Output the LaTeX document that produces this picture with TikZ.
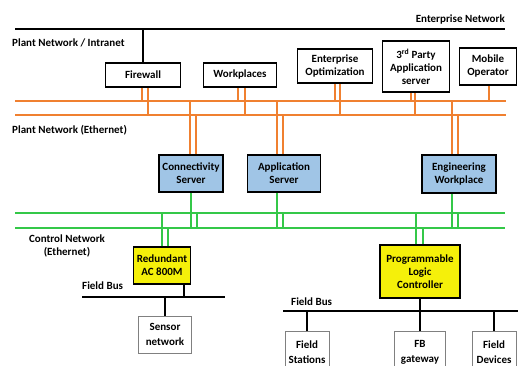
\documentclass[tikz,border=0pt]{standalone}
\usepackage{fontspec}
\setmainfont{Carlito}
\definecolor{plantorange}{RGB}{240,128,48}
\definecolor{ctrlgreen}{RGB}{52,200,72}
\definecolor{srvblue}{RGB}{160,197,230}
\definecolor{ctrlyellow}{RGB}{245,240,10}
\tikzset{
    unit/.style={draw, line width=1.6pt, align=center, inner sep=1pt,
        font=\bfseries\fontsize{11}{13}\selectfont},
    srv/.style={unit, fill=srvblue},
    ctrl/.style={unit, fill=ctrlyellow},
    dev/.style={draw=gray, line width=0.9pt, align=center, inner sep=1pt,
        font=\bfseries\fontsize{11}{15}\selectfont},
    lbl/.style={inner sep=0pt, align=center, font=\bfseries\fontsize{11}{13}\selectfont},
    bus/.style={line width=2pt},
    eth/.style={line width=1.6pt, plantorange},
    cnet/.style={line width=1.6pt, ctrlgreen}
}
% vertical drop from a shifted anchor of a node down/up to a bus coordinate
\newcommand{\drop}[4]{\draw[#4] ([xshift=#2pt]#1) -- ([xshift=#2pt]#1 |- #3);}

\begin{document}
\begin{tikzpicture}[x=1pt, y=-1pt]
            \clip (0,0) rectangle (522,366);
            % buses
            \coordinate (en1) at (15,29);   \coordinate (en2) at (505,29);
            \coordinate (po1) at (15,101);  \coordinate (po1e) at (506,101);
            \coordinate (po2) at (15,115);  \coordinate (po2e) at (506,115);
            \coordinate (cg1) at (15,213);  \coordinate (cg1e) at (505,213);
            \coordinate (cg2) at (15,228);  \coordinate (cg2e) at (505,228);
            \coordinate (fbl1) at (82,297); \coordinate (fbl2) at (225,297);
            \coordinate (fbr1) at (283,311);\coordinate (fbr2) at (518,311);

            \draw[bus] (en1)--(en2);
            \draw[eth] (po1)--(po1e);
            \draw[eth] (po2)--(po2e);
            \draw[cnet] (cg1)--(cg1e);
            \draw[cnet] (cg2)--(cg2e);
            \draw[bus] (fbl1)--(fbl2);
            \draw[bus] (fbr1)--(fbr2);

            \node[lbl, anchor=south east] (enet) at (505,24) {Enterprise Network};
            \node[lbl, anchor=west] (pnet) at (12,43) {Plant Network / Intranet};
            \node[lbl, anchor=west] (peth) at (12,130) {Plant Network (Ethernet)};
            \node[lbl] (ceth) at (67,246) {Control Network\\(Ethernet)};
            \node[lbl, anchor=west] (fbusl) at (82,286) {Field Bus};
            \node[lbl, anchor=west] (fbusr) at (291,302) {Field Bus};

            % plant network
            \node[unit, minimum width=75pt, minimum height=24pt] (fw) at (143,75) {Firewall};
            \node[unit, minimum width=73pt, minimum height=24pt] (wp) at (240,75) {Workplaces};
            \node[unit, minimum width=75pt, minimum height=34pt] (eo) at (335,66) {Enterprise\\Optimization};
            \node[unit, minimum width=67pt, minimum height=51pt] (tp) at (416,66.5) {3\textsuperscript{rd} Party\\Application\\server};
            \node[unit, minimum width=57pt, minimum height=37pt] (mo) at (488,66.5) {Mobile\\Operator};

            \node[srv, minimum width=64pt, minimum height=37pt] (cs) at (191,173.5) {Connectivity\\Server};
            \node[srv, minimum width=73pt, minimum height=37pt] (as) at (284,173.5) {Application\\Server};
            \node[srv, minimum width=74pt, minimum height=38pt] (ew) at (459,174) {Engineering\\Workplace};

            % control and field level
            \node[ctrl, minimum width=57pt, minimum height=37pt] (ac) at (162,265.5) {Redundant\\AC 800M};
            \node[ctrl, minimum width=80pt, minimum height=53pt] (plc) at (420,271.5) {Programmable\\Logic\\Controller};
            \node[dev, minimum width=53pt, minimum height=37pt] (sn) at (165,334.5) {Sensor\\network};
            \node[dev, minimum width=44pt, minimum height=42pt, anchor=north] (fs) at (307,331) {Field\\Stations};
            \node[dev, minimum width=51pt, minimum height=42pt, anchor=north] (fg) at (420,331) {FB\\gateway};
            \node[dev, minimum width=44pt, minimum height=42pt, anchor=north] (fd) at (494,331) {Field\\Devices};

            \draw[line width=1.6pt] (fw.north |- en1)--(fw.north);

            \drop{fw.south}{-1}{po1}{eth}
            \drop{fw.south}{5}{po2}{eth}
            \drop{wp.south}{-2}{po1}{eth}
            \drop{wp.south}{5}{po2}{eth}
            \drop{eo.south}{0}{po1}{eth}
            \drop{eo.south}{5}{po2}{eth}
            \drop{tp.south}{-5}{po1}{eth}
            \drop{tp.south}{-1}{po2}{eth}
            \drop{mo.south}{1}{po1}{eth}

            \drop{cs.north}{-1}{po1}{eth}
            \drop{cs.north}{5}{po2}{eth}
            \drop{as.north}{-7}{po1}{eth}
            \drop{as.north}{-1}{po2}{eth}
            \drop{ew.north}{-7}{po1}{eth}
            \drop{ew.north}{-1}{po2}{eth}

            \drop{cs.south}{0}{cg2}{cnet}
            \drop{as.south}{-7}{cg2}{cnet}
            \drop{ew.south}{-7}{cg2}{cnet}
            \draw[cnet] ([xshift=6pt]cs.south |- cg1)--([xshift=6pt]cs.south |- cg2);
            \draw[cnet] ([xshift=-1pt]as.south |- cg1)--([xshift=-1pt]as.south |- cg2);
            \draw[cnet] ([xshift=-1pt]ew.south |- cg1)--([xshift=-1pt]ew.south |- cg2);

            \drop{ac.north}{0}{cg1}{cnet}
            \drop{ac.north}{6}{cg2}{cnet}
            \drop{plc.north}{-4}{cg1}{cnet}
            \drop{plc.north}{3}{cg2}{cnet}

            \draw[line width=1.6pt] ([xshift=22pt]ac.south)--([xshift=22pt]ac.south |- fbl1);
            \draw[line width=1.6pt] (sn.north)--(sn.north |- fbl1);
            \draw[line width=1.6pt] (plc.south)--(fg.north);
            \draw[line width=1.6pt] (fs.north)--(fs.north |- fbr1);
            \draw[line width=1.6pt] (fd.north)--(fd.north |- fbr1);
        \end{tikzpicture}
\end{document}
